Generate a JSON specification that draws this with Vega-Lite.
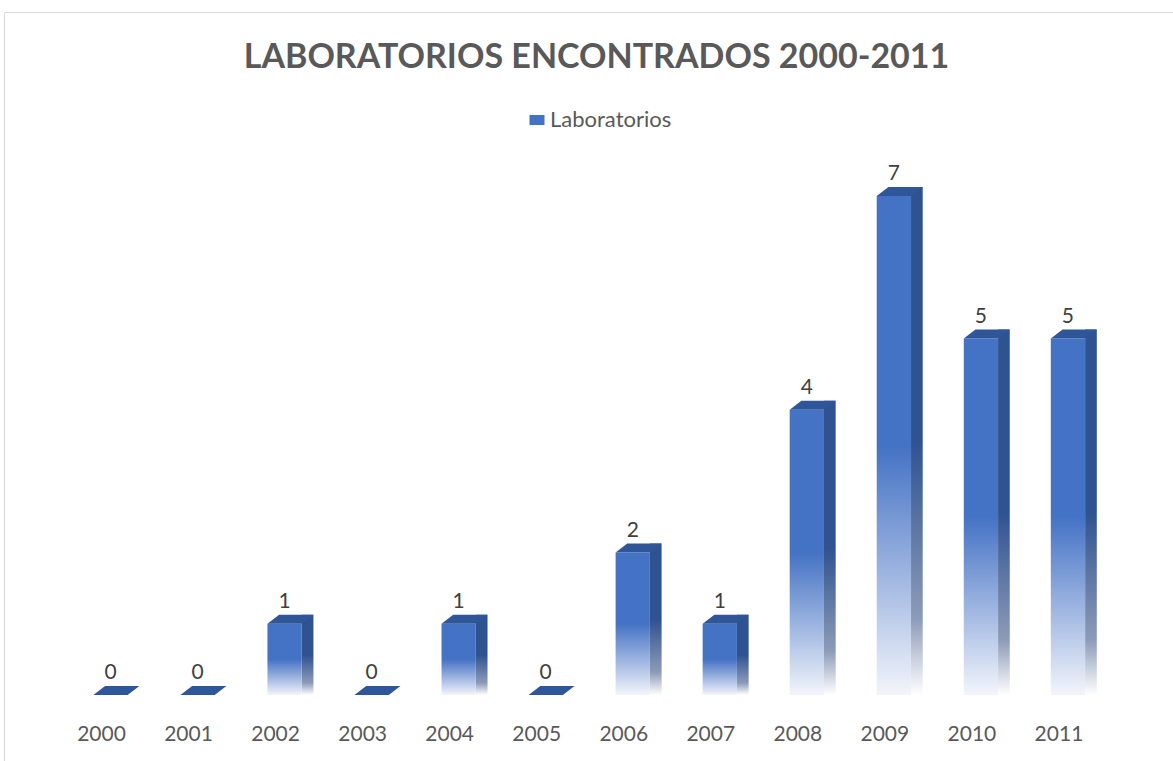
{
  "$schema": "https://vega.github.io/schema/vega-lite/v6.json",
  "width": 1169,
  "height": 749,
  "autosize": {"type": "none"},
  "padding": {"left": 4, "top": 12, "right": 0, "bottom": 0},
  "background": "white",
  "config": {"view": {"stroke": null}, "font": "Lato"},
  "title": {
    "text": "LABORATORIOS ENCONTRADOS 2000-2011",
    "font": "Lato",
    "fontSize": 34,
    "fontWeight": "bold",
    "color": "#595959",
    "anchor": "middle",
    "frame": "group",
    "baseline": "alphabetic",
    "offset": -90,
    "dx": 8
  },
  "data": {
    "values": [
      {"year": "2000", "value": 0},
      {"year": "2001", "value": 0},
      {"year": "2002", "value": 1},
      {"year": "2003", "value": 0},
      {"year": "2004", "value": 1},
      {"year": "2005", "value": 0},
      {"year": "2006", "value": 2},
      {"year": "2007", "value": 1},
      {"year": "2008", "value": 4},
      {"year": "2009", "value": 7},
      {"year": "2010", "value": 5},
      {"year": "2011", "value": 5}
    ]
  },
  "layer": [
    {
      "transform": [{"filter": "datum.value > 0"}],
      "mark": {
        "type": "bar",
        "width": 11.7,
        "xOffset": 32,
        "yOffset": -9,
        "fill": {
          "gradient": "linear", "x1": 0, "y1": 0, "x2": 0, "y2": 1,
          "stops": [
            {"offset": 0, "color": "#2F5290"},
            {"offset": 0.5, "color": "#2F5290"},
            {"offset": 0.85, "color": "#8D9BB8"},
            {"offset": 1, "color": "#FFFFFF"}
          ]
        }
      },
      "encoding": {
        "x": {
          "field": "year", "type": "nominal", "sort": null,
          "scale": {
            "domain": ["2000", "2001", "2002", "2003", "2004", "2005", "2006", "2007", "2008", "2009", "2010", "2011"],
            "paddingInner": 0, "paddingOuter": 0.7153, "align": 0.4336
          },
          "axis": {
            "orient": "bottom", "offset": -30, "domain": false, "ticks": false, "tickSize": 0,
            "labelPadding": 9.7, "labelBaseline": "alphabetic", "labelFont": "Lato",
            "labelFontSize": 21, "labelColor": "#595959", "labelAngle": 0, "title": null, "grid": false
          }
        },
        "y": {
          "field": "value", "type": "quantitative",
          "scale": {"domain": [-0.9257, 9.5792], "nice": false},
          "axis": {"orient": "left", "labels": false, "ticks": false, "domain": true, "domainColor": "#D9D9D9", "grid": false, "title": null}
        },
        "y2": {"datum": 0}
      }
    },
    {
      "mark": {
        "type": "bar", "width": 34.3, "xOffset": 9,
        "fill": {
          "gradient": "linear", "x1": 0, "y1": 0, "x2": 0, "y2": 1,
          "stops": [
            {"offset": 0, "color": "#4472C4"},
            {"offset": 0.5, "color": "#4472C4"},
            {"offset": 0.75, "color": "#9BB3E0"},
            {"offset": 1, "color": "#F2F5FB"}
          ]
        }
      },
      "encoding": {
        "x": {
          "field": "year", "type": "nominal", "sort": null,
          "axis": {"orient": "top", "labels": false, "ticks": false, "domain": true, "domainColor": "#D9D9D9", "title": null, "grid": false}
        },
        "y": {"field": "value", "type": "quantitative"},
        "y2": {"datum": 0}
      }
    },
    {
      "transform": [{"filter": "false"}],
      "mark": {"type": "bar", "width": 34.3},
      "encoding": {
        "x": {"field": "year", "type": "nominal", "sort": null, "axis": null},
        "y": {"field": "value", "type": "quantitative"},
        "color": {
          "datum": "Laboratorios",
          "type": "nominal",
          "scale": {"domain": ["Laboratorios"], "range": ["#4472C4"]},
          "legend": {
            "title": null, "orient": "none", "legendX": 522, "legendY": 97,
            "symbolType": "M-1,-0.667L1,-0.667L1,0.667L-1,0.667Z", "symbolSize": 225,
            "symbolStrokeWidth": 0, "labelFont": "Lato", "labelFontSize": 22,
            "labelColor": "#595959", "labelOffset": 2, "padding": 0
          }
        }
      }
    },
    {
      "mark": {
        "type": "point",
        "shape": "M-0.5717,0L0.5717,0L0.9617,-0.3L-0.1817,-0.3Z",
        "size": 3600,
        "filled": true,
        "color": "#30569A",
        "opacity": 1,
        "strokeWidth": 0,
        "xOffset": 9
      },
      "encoding": {
        "x": {"field": "year", "type": "nominal", "sort": null, "axis": null},
        "y": {"field": "value", "type": "quantitative"}
      }
    },
    {
      "mark": {
        "type": "text", "font": "Lato", "fontSize": 21, "color": "#404040",
        "baseline": "alphabetic", "align": "center", "dx": 9, "dy": -15.7
      },
      "encoding": {
        "x": {"field": "year", "type": "nominal", "sort": null, "axis": null},
        "y": {"field": "value", "type": "quantitative"},
        "text": {"field": "value", "type": "quantitative"}
      }
    }
  ],
  "resolve": {"axis": {"x": "independent"}}
}
